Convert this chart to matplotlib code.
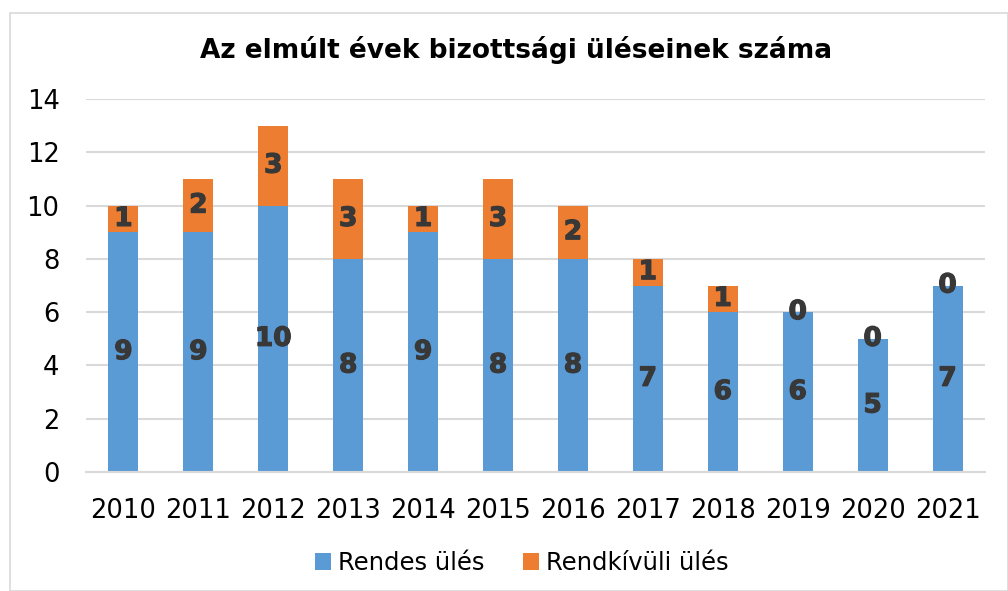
import matplotlib
matplotlib.use("Agg")
import matplotlib.pyplot as plt
import matplotlib.patheffects as pe
from matplotlib.patches import Rectangle
import numpy as np

years = ["2010", "2011", "2012", "2013", "2014", "2015", "2016", "2017", "2018", "2019", "2020", "2021"]
rendes = [9, 9, 10, 8, 9, 8, 8, 7, 6, 6, 5, 7]
rendkivuli = [1, 2, 3, 3, 1, 3, 2, 1, 1, 0, 0, 0]
series_names = ["Rendes ülés", "Rendkívüli ülés"]
title = "Az elmúlt évek bizottsági üléseinek száma"

blue = "#5B9BD5"
orange = "#ED7D31"
label_color = "#383838"

W, H = 1008, 591
fig = plt.figure(figsize=(W / 100, H / 100), dpi=100)
fig.patches.append(Rectangle((10 / W, 0), (W - 10) / W, (H - 13) / H, transform=fig.transFigure,
                             fill=False, edgecolor="#D9D9D9", linewidth=1.2))

ax = fig.add_axes([86 / W, (H - 472) / H, (985 - 86) / W, (472 - 99) / H])
x = np.arange(len(years))
w = 0.4
ax.bar(x, rendes, w, color=blue, label=series_names[0], zorder=2)
ax.bar(x, rendkivuli, w, bottom=rendes, color=orange, label=series_names[1], zorder=2)

thick = [pe.withStroke(linewidth=0.9, foreground=label_color)]
for i in range(len(years)):
    ax.text(x[i], rendes[i] / 2, str(rendes[i]), ha="center", va="center",
            fontsize=19, fontweight="bold", color=label_color, zorder=3, path_effects=thick)
    ax.text(x[i], rendes[i] + rendkivuli[i] / 2, str(rendkivuli[i]), ha="center", va="center",
            fontsize=19, fontweight="bold", color=label_color, zorder=3, path_effects=thick)

ax.set_xlim(-0.5, len(years) - 0.5)
ax.set_ylim(0, 14)
ax.set_yticks(range(0, 15, 2))
ax.set_xticks(x)
ax.set_xticklabels(years)
ax.tick_params(axis="both", length=0, labelsize=18.5, colors="black")
ax.tick_params(axis="x", pad=19)
ax.tick_params(axis="y", pad=19)
ax.grid(axis="y", color="#D9D9D9", linewidth=1.5, zorder=0)
for s in ["top", "right", "left"]:
    ax.spines[s].set_visible(False)
ax.spines["bottom"].set_color("#D9D9D9")
ax.spines["bottom"].set_linewidth(1.5)

fig.text(516 / W, 1 - 50 / H, title, ha="center", va="center", fontsize=19, fontweight="bold")

fig.legend(loc="center", bbox_to_anchor=(522 / W, 1 - 563 / H), ncol=2, frameon=False,
           fontsize=17.5, handlelength=0.65, handleheight=0.65, handletextpad=0.3, columnspacing=1.6)

fig.savefig("out.png", dpi=100)
